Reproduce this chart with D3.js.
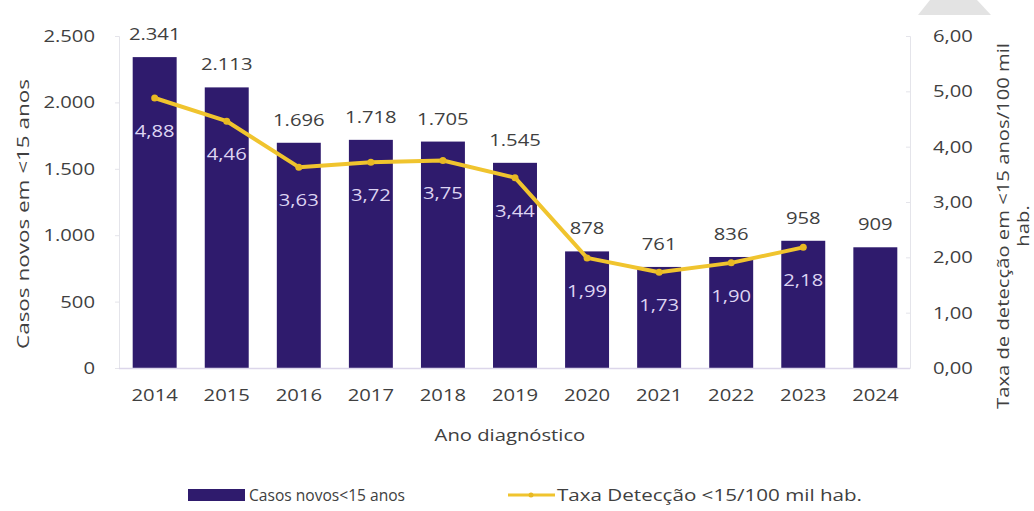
<!DOCTYPE html>
<html>
<head>
<meta charset="utf-8">
<script src="https://cdn.jsdelivr.net/npm/d3@7"></script>
<style>
  html, body { margin: 0; padding: 0; background: #fff; }
  svg { display: block; }
  text { font-family: "Open Sans", "DejaVu Sans", sans-serif; }
</style>
</head>
<body>
<svg id="chart" width="1034" height="511"></svg>
<script>
// Casos novos em menores de 15 anos e taxa de detecção, 2014–2024
const years = ["2014","2015","2016","2017","2018","2019","2020","2021","2022","2023","2024"];
const casos = [2341, 2113, 1696, 1718, 1705, 1545, 878, 761, 836, 958, 909];
const taxa  = [4.88, 4.46, 3.63, 3.72, 3.75, 3.44, 1.99, 1.73, 1.90, 2.18, null];
const leftTicks  = [0, 500, 1000, 1500, 2000, 2500];
const rightTicks = [0, 1, 2, 3, 4, 5, 6];

const locale = d3.formatLocale({decimal: ",", thousands: ".", grouping: [3], currency: ["R$", ""]});
const fmtInt = locale.format(",d");
const fmtDec = locale.format(".2f");

const svg = d3.select("#chart");
const barColor = "#2f1b6d";
const lineColor = "#f0c42e";
const textColor = "#404040";
const fs = 17;          // base font size
const stretch = 1.19;   // horizontal widening of the labels

const plot = {left: 119, right: 910, top: 36, bottom: 368};

const x = d3.scaleBand().domain(years).range([plot.left, plot.right + 1])
  .paddingInner(0.39).paddingOuter(0.19);
const yL = d3.scaleLinear().domain([0, 2500]).range([plot.bottom, plot.top]);
const yR = d3.scaleLinear().domain([0, 6]).range([plot.bottom, plot.top]);
const cx = d => x(d) + x.bandwidth() / 2;

// faint corner shape at top right
svg.append("polygon")
  .attr("points", "930,0 977,0 991,15 918,15")
  .attr("fill", "#e3e3e3");

// axes
const axL = svg.append("g").attr("transform", `translate(${plot.left},0)`)
  .call(d3.axisLeft(yL).tickValues(leftTicks).tickSize(4).tickFormat(""));
const axR = svg.append("g").attr("transform", `translate(${plot.right},0)`)
  .call(d3.axisLeft(yR).tickValues(rightTicks).tickSize(4).tickFormat(""));
[axL, axR].forEach(g => {
  g.selectAll("path, line").attr("stroke", "#e4e4ea").attr("stroke-width", 1);
});

// left tick labels
svg.append("g").selectAll("text").data(leftTicks).join("text")
  .attr("class", "st")
  .attr("x", 95).attr("y", d => yL(d)).attr("dy", "0.35em")
  .attr("text-anchor", "end").attr("font-size", fs).attr("fill", textColor)
  .text(d => fmtInt(d));

// right tick labels
svg.append("g").selectAll("text").data(rightTicks).join("text")
  .attr("class", "st")
  .attr("x", 933).attr("y", d => yR(d)).attr("dy", "0.35em")
  .attr("text-anchor", "start").attr("font-size", fs).attr("fill", textColor)
  .text(d => fmtDec(d));

// bars
svg.append("g").selectAll("rect").data(years).join("rect")
  .attr("x", d => x(d)).attr("width", x.bandwidth())
  .attr("y", (d, i) => yL(casos[i]))
  .attr("height", (d, i) => yL(0) - yL(casos[i]))
  .attr("fill", barColor);

// baseline
svg.append("line")
  .attr("x1", plot.left).attr("x2", plot.right)
  .attr("y1", plot.bottom + 0.5).attr("y2", plot.bottom + 0.5)
  .attr("stroke", "#dcd6ea").attr("stroke-width", 1.5);

// bar value labels
svg.append("g").selectAll("text").data(years).join("text")
  .attr("class", "st")
  .attr("x", cx)
  .attr("y", (d, i) => yL(casos[i]) - 23).attr("dy", "0.35em")
  .attr("text-anchor", "middle").attr("font-size", fs).attr("fill", textColor)
  .text((d, i) => fmtInt(casos[i]));

// detection rate line
const pts = years.map((d, i) => ({year: d, v: taxa[i]})).filter(p => p.v != null);
const line = d3.line()
  .x(p => cx(p.year))
  .y(p => yR(p.v));
svg.append("path").datum(pts)
  .attr("d", line).attr("fill", "none")
  .attr("stroke", lineColor).attr("stroke-width", 4)
  .attr("stroke-linejoin", "round").attr("stroke-linecap", "round");
svg.append("g").selectAll("circle").data(pts).join("circle")
  .attr("cx", p => cx(p.year))
  .attr("cy", p => yR(p.v)).attr("r", 3.5)
  .attr("fill", "#e8b923");

// rate labels
svg.append("g").selectAll("text").data(pts).join("text")
  .attr("class", "st")
  .attr("x", p => cx(p.year))
  .attr("y", p => yR(p.v) + 33).attr("dy", "0.35em")
  .attr("text-anchor", "middle").attr("font-size", fs).attr("fill", "#ddd4f2")
  .text(p => fmtDec(p.v));

// x tick labels
svg.append("g").selectAll("text").data(years).join("text")
  .attr("class", "st")
  .attr("x", cx).attr("y", 395).attr("dy", "0.35em")
  .attr("text-anchor", "middle").attr("font-size", fs).attr("fill", textColor)
  .text(d => d);

// axis titles
svg.append("text").attr("class", "st")
  .attr("x", 510).attr("y", 435).attr("dy", "0.35em")
  .attr("text-anchor", "middle").attr("font-size", fs).attr("fill", textColor)
  .text("Ano diagnóstico");

svg.append("text").attr("class", "st").attr("data-w", 270)
  .attr("transform", "translate(23,214) rotate(-90)").attr("dy", "0.35em")
  .attr("x", 0)
  .attr("text-anchor", "middle").attr("font-size", fs).attr("fill", textColor)
  .text("Casos novos em <15 anos");

const rt = svg.append("text")
  .attr("transform", "translate(1003,226) rotate(-90)")
  .attr("font-size", fs).attr("fill", textColor);
rt.append("tspan").attr("class", "st").attr("data-w", 366).attr("text-anchor", "middle")
  .attr("x", 0).attr("dy", "0.35em")
  .text("Taxa de detecção em <15 anos/100 mil");
rt.append("tspan").attr("class", "st").attr("text-anchor", "middle")
  .attr("x", 0).attr("dy", "1.15em").text("hab.");

// legend
const lg = svg.append("g");
lg.append("rect").attr("x", 188).attr("y", 489).attr("width", 57).attr("height", 12).attr("fill", barColor);
lg.append("text").attr("class", "st").attr("data-w", 156)
  .attr("x", 249).attr("y", 495).attr("dy", "0.35em")
  .attr("font-size", fs).attr("fill", textColor).text("Casos novos<15 anos");
lg.append("line").attr("x1", 508).attr("x2", 555).attr("y1", 495).attr("y2", 495)
  .attr("stroke", lineColor).attr("stroke-width", 3);
lg.append("circle").attr("cx", 531).attr("cy", 495).attr("r", 2.5).attr("fill", "#e8b923");
lg.append("text").attr("class", "st").attr("data-w", 305)
  .attr("x", 557).attr("y", 495).attr("dy", "0.35em")
  .attr("font-size", fs).attr("fill", textColor).text("Taxa Detecção <15/100 mil hab.");

// widen the labels, keeping each one anchored where it was placed
svg.selectAll(".st").each(function () {
  const el = d3.select(this);
  const anchor = this.getAttribute("text-anchor") || "start";
  const len = this.getComputedTextLength();
  const w = this.hasAttribute("data-w") ? +this.getAttribute("data-w") : len * stretch;
  const x0 = +(this.getAttribute("x") || 0);
  const shift = anchor === "middle" ? w / 2 : anchor === "end" ? w : 0;
  el.attr("text-anchor", "start")
    .attr("x", (x0 - shift).toFixed(1))
    .attr("textLength", w.toFixed(1))
    .attr("lengthAdjust", "spacingAndGlyphs");
});
</script>
</body>
</html>
